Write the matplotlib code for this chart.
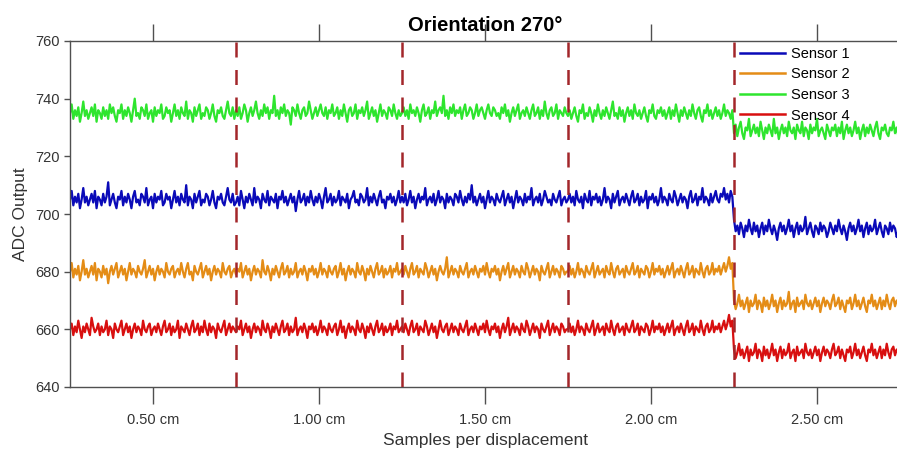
import numpy as np
import matplotlib
matplotlib.use("Agg")
import matplotlib.pyplot as plt

plt.rcParams['font.family'] = ['Liberation Sans', 'DejaVu Sans']

# Displacement segments (cm): each segment holds the same number of ADC samples
segment_starts = [0.25, 0.75, 1.25, 1.75, 2.25]
segment_width = 0.5
boundaries = [0.75, 1.25, 1.75, 2.25]
xtick_values = [0.5, 1.0, 1.5, 2.0, 2.5]
xtick_labels = ["0.50 cm", "1.00 cm", "1.50 cm", "2.00 cm", "2.50 cm"]
ytick_values = [640, 660, 680, 700, 720, 740, 760]

sensor_names = ["Sensor 1", "Sensor 2", "Sensor 3", "Sensor 4"]
sensor_colors = ["#0a0ab8", "#e48c16", "#2ee52e", "#d80f0f"]

# ADC readings, one row per displacement segment
sensor1 = [
    [705,708,703,706,704,707,702,705,709,704, 706,703,705,707,704,708,702,706,705,703,
     707,704,706,711,703,705,707,704,702,706, 705,708,703,706,704,707,705,702,706,708,
     704,705,703,707,706,704,709,703,705,706, 702,707,704,706,705,708,703,704,707,705,
     706,702,705,708,704,706,703,707,705,704, 710,703,706,705,702,707,704,706,708,703,
     705,704,707,706,703,705,708,704,702,706, 705,707,704,703,706,709,705,704,707,703],
    [704,706,703,708,705,702,706,704,707,705, 703,709,704,706,705,702,707,705,704,708,
     703,706,705,704,707,702,706,705,708,704, 706,703,705,707,704,706,701,705,708,704,
     705,707,703,706,704,708,705,703,706,704, 707,705,702,706,709,704,705,707,703,706,
     704,705,708,703,706,705,704,707,702,705, 706,708,704,705,703,707,706,704,705,709,
     703,706,704,707,705,703,706,708,704,705, 702,706,705,707,704,706,703,705,708,704],
    [706,704,707,703,705,708,704,706,702,705, 707,704,706,705,709,703,705,706,704,707,
     703,705,708,704,706,705,702,707,704,706, 705,703,707,706,704,708,705,703,706,704,
     707,705,710,704,706,703,705,707,704,706, 702,705,708,704,706,705,703,707,705,704,
     706,708,703,705,707,704,706,702,705,708, 704,706,705,703,707,704,706,705,709,703,
     705,706,704,707,703,705,708,706,704,705, 703,707,705,704,706,708,703,705,706,704],
    [705,707,704,706,703,708,705,704,706,702, 707,705,704,708,703,706,705,707,704,706,
     703,705,709,704,706,705,702,707,704,706, 708,703,705,706,704,707,705,703,706,708,
     704,705,707,703,706,704,705,708,702,706, 705,707,704,706,703,705,709,704,706,705,
     703,707,705,704,708,706,703,705,707,704, 706,705,702,706,708,704,705,707,703,706,
     705,709,704,706,705,703,707,704,706,708, 705,704,707,706,709,705,707,704,708,706],
    [698,694,696,693,697,695,692,696,694,698, 695,693,697,694,696,692,695,697,693,696,
     694,698,695,693,696,694,691,695,697,694, 696,693,695,698,694,696,692,695,697,693,
     696,694,695,699,693,695,697,694,692,696, 695,693,697,694,696,695,692,694,697,695,
     693,696,694,698,695,693,696,694,691,695, 697,694,696,693,695,698,694,696,692,695,
     697,693,696,694,695,698,693,695,697,694, 692,696,695,693,697,694,696,695,692,694],
]
sensor2 = [
    [680,683,678,681,679,682,677,680,684,679, 681,678,680,682,679,683,677,681,680,678,
     682,679,681,676,680,682,679,681,683,678, 680,682,679,681,677,680,683,679,681,680,
     678,682,680,679,681,684,678,680,682,679, 681,677,680,682,679,681,680,678,683,680,
     679,681,682,678,680,681,679,683,680,678, 681,683,679,680,677,682,680,679,681,683,
     678,680,682,679,681,677,680,682,679,681, 680,678,683,680,679,681,682,678,680,681],
    [679,681,680,683,678,680,682,679,681,677, 680,682,679,681,680,678,684,680,679,682,
     680,677,681,679,682,680,678,681,683,679, 680,682,678,681,679,680,683,678,680,681,
     679,682,680,677,681,680,682,679,681,678, 680,683,679,681,680,678,682,680,679,681,
     682,678,680,683,679,681,677,680,682,679, 681,680,678,683,680,679,682,680,677,681,
     679,682,680,678,681,683,679,680,682,678, 681,679,680,682,678,681,680,683,679,680],
    [681,679,682,680,678,681,683,679,680,682, 678,681,680,679,683,681,678,680,682,679,
     681,677,680,682,680,679,681,685,678,680, 682,679,681,680,678,682,680,679,681,683,
     678,680,681,679,682,680,678,681,680,682, 679,683,680,678,681,680,682,679,681,677,
     680,682,679,681,683,678,680,682,679,681, 680,678,682,680,679,683,681,678,680,682,
     679,681,680,677,682,680,679,681,683,678, 680,682,679,681,680,678,682,681,679,680],
    [680,682,679,681,678,680,683,679,681,680, 678,682,680,679,681,683,678,680,682,679,
     680,681,678,682,680,679,683,680,678,681, 682,679,680,681,678,682,680,679,681,683,
     679,680,682,678,681,680,679,682,681,678, 680,683,679,681,680,682,679,681,678,680,
     682,679,681,683,678,680,681,679,682,680, 678,681,683,679,680,682,678,681,680,679,
     683,680,678,681,682,679,680,683,679,681, 680,682,679,681,683,680,682,685,681,683],
    [670,667,669,672,668,670,667,669,671,666, 670,668,669,672,667,670,669,666,671,668,
     670,667,669,672,668,670,666,669,671,667, 670,668,669,673,667,669,670,666,671,668,
     669,670,667,672,669,668,670,667,669,671, 668,670,666,669,671,668,670,669,667,670,
     672,668,669,671,667,670,668,666,670,669, 671,667,669,672,668,670,667,669,671,668,
     666,670,669,672,668,670,667,669,671,667, 670,668,672,669,667,670,671,668,670,669],
]
sensor3 = [
    [735,738,733,736,734,737,732,735,739,734, 736,733,735,737,734,738,732,736,735,733,
     737,734,736,733,738,735,737,734,732,736, 735,738,733,736,734,737,735,732,736,740,
     734,735,733,737,736,734,738,733,735,736, 732,737,734,736,735,738,733,734,737,735,
     736,732,735,738,734,736,733,737,735,734, 739,733,736,735,732,737,734,736,738,733,
     735,734,737,736,733,735,738,734,732,736, 735,737,734,733,736,739,735,734,737,733],
    [736,734,737,733,735,738,736,732,735,737, 734,736,739,735,733,736,734,738,735,737,
     733,736,735,741,734,736,733,737,735,738, 734,736,735,731,737,736,734,738,735,733,
     736,737,734,735,739,736,733,735,737,734, 736,738,735,734,737,733,736,735,738,734,
     735,737,733,736,734,738,735,732,736,737, 734,735,738,733,736,735,737,734,736,739,
     733,735,737,734,736,732,735,738,734,736, 735,733,737,736,734,738,735,733,736,734],
    [735,737,734,736,733,738,735,736,734,737, 735,732,736,738,734,735,737,733,736,735,
     739,734,736,737,735,741,734,736,733,737, 735,738,734,736,735,737,733,736,738,734,
     735,737,736,733,735,738,734,736,737,735, 733,736,738,735,734,737,736,734,735,733,
     737,735,738,734,736,732,735,737,734,736, 738,733,735,736,734,737,735,733,736,738,
     734,735,737,733,736,734,739,735,733,736, 737,734,735,738,733,736,735,734,737,735],
    [734,736,733,735,737,734,732,736,735,738, 733,735,734,737,735,732,736,734,738,735,
     733,736,734,737,735,733,736,739,734,735, 733,737,734,736,732,735,737,734,736,733,
     738,735,734,736,733,735,737,734,732,736, 735,738,734,733,736,735,737,734,736,733,
     735,737,733,736,734,738,735,732,736,734, 737,735,733,736,734,738,735,733,736,737,
     734,732,736,735,738,734,736,733,735,737, 734,736,733,735,738,734,736,735,733,736],
    [728,731,727,730,732,728,726,730,729,733, 727,729,731,728,730,727,732,729,726,730,
     728,731,729,727,733,728,730,726,729,731, 728,730,727,732,729,728,730,726,731,729,
     728,732,727,730,729,726,731,728,730,729, 733,727,729,730,728,726,731,729,727,730,
     729,731,727,730,728,732,726,729,731,728, 730,727,729,732,728,730,726,729,731,727,
     730,728,731,729,727,730,732,728,726,730, 729,731,728,727,730,729,732,728,730,727],
]
sensor4 = [
    [660,662,658,661,659,663,660,657,661,659, 662,660,658,664,661,659,660,662,658,661,
     659,660,663,658,661,660,657,662,660,659, 661,663,658,660,662,659,661,657,660,662,
     659,661,660,658,663,660,659,661,662,658, 660,661,659,662,660,658,661,663,659,660,
     662,658,661,659,660,663,657,661,660,659, 662,660,658,661,663,659,660,662,658,661,
     659,663,660,658,662,659,661,660,657,662, 660,659,661,663,658,660,662,659,661,660],
    [659,661,660,663,658,660,662,659,661,657, 660,662,659,661,660,658,663,660,659,662,
     660,657,661,659,662,660,658,661,663,659, 660,662,658,661,659,660,664,658,660,661,
     659,662,660,657,661,660,662,659,661,658, 660,663,659,661,660,658,662,660,659,661,
     662,658,660,663,659,661,657,660,662,659, 661,660,658,663,660,659,662,660,657,661,
     659,662,660,658,661,663,659,660,662,658, 661,659,660,662,658,661,660,663,659,660],
    [661,659,662,660,658,661,663,659,660,662, 658,661,660,659,663,661,658,660,662,659,
     661,657,660,663,660,659,661,662,658,660, 662,659,661,660,658,662,660,659,661,663,
     658,660,661,659,662,660,658,661,660,662, 659,663,660,658,661,660,662,659,661,657,
     660,662,659,661,664,658,660,662,659,661, 660,658,662,660,659,663,661,658,660,662,
     659,661,660,657,662,660,659,661,663,658, 660,662,659,661,660,658,662,661,659,660],
    [660,662,659,661,658,660,663,659,661,660, 658,662,660,659,661,663,658,660,662,659,
     660,661,658,662,660,659,663,660,658,661, 662,659,660,661,658,662,660,659,661,663,
     659,660,662,658,661,660,659,662,661,658, 660,663,659,661,660,662,659,661,658,660,
     662,659,661,663,658,660,661,659,662,660, 658,661,663,659,660,662,658,661,660,659,
     663,660,658,661,662,659,660,663,659,661, 660,662,659,661,663,660,662,665,661,663],
    [653,650,652,655,651,653,650,652,654,649, 653,651,652,655,650,653,652,649,654,651,
     653,650,652,655,651,653,649,652,654,650, 653,651,652,655,650,652,653,649,654,651,
     652,653,650,655,652,651,653,650,652,654, 651,653,649,652,654,651,653,652,650,653,
     655,651,652,654,650,653,651,649,653,652, 654,650,652,655,651,653,650,652,654,651,
     649,653,652,655,651,653,650,652,654,650, 653,651,655,652,650,653,654,651,653,652],
]
sensors = [sensor1, sensor2, sensor3, sensor4]


def sample_positions(segments):
    xs = []
    for start, seg in zip(segment_starts, segments):
        xs.append(np.linspace(start, start + segment_width, len(seg), endpoint=False))
    return np.concatenate(xs)


fig = plt.figure(figsize=(8.97, 4.59), dpi=100)
ax = fig.add_axes([70 / 897, 1 - 387 / 459, 830 / 897, 346 / 459])

for name, color, segs in zip(sensor_names, sensor_colors, sensors):
    x = sample_positions(segs)
    y = np.concatenate([np.asarray(s, dtype=float) for s in segs])
    ax.plot(x, y, color=color, lw=1.6, label=name)

for b in boundaries:
    ax.axvline(b, color="#a3262a", lw=1.8, ls=(0, (6, 5)), zorder=3)

ax.set_xlim(0.25, 2.75)
ax.set_ylim(640, 760)
ax.set_xticks(xtick_values)
ax.set_xticklabels(xtick_labels)
ax.set_yticks(ytick_values)

for side in ["left", "bottom", "top", "right"]:
    ax.spines[side].set_color("#505050")
    ax.spines[side].set_linewidth(1.0)

ax.tick_params(axis="x", direction="out", length=12, width=1.0, color="#505050",
               labelsize=10.5, labelcolor="#333333", top=True, pad=7)
ax.tick_params(axis="y", direction="out", length=4, width=1.0, color="#505050",
               labelsize=10.5, labelcolor="#333333")

ax.set_title("Orientation 270°", fontsize=14.5, fontweight="bold", pad=7)
ax.set_xlabel("Samples per displacement", fontsize=12.5, color="#333333", labelpad=4)
ax.set_ylabel("ADC Output", fontsize=12.5, color="#333333", labelpad=5)

leg = ax.legend(loc="upper left", bbox_to_anchor=(0.80, 1.0), frameon=False,
                fontsize=10.5, handlelength=3.1, handletextpad=0.4, labelspacing=0.45,
                borderaxespad=0.0)
for h in leg.get_lines():
    h.set_linewidth(1.8)

fig.savefig("out.png", dpi=100)
